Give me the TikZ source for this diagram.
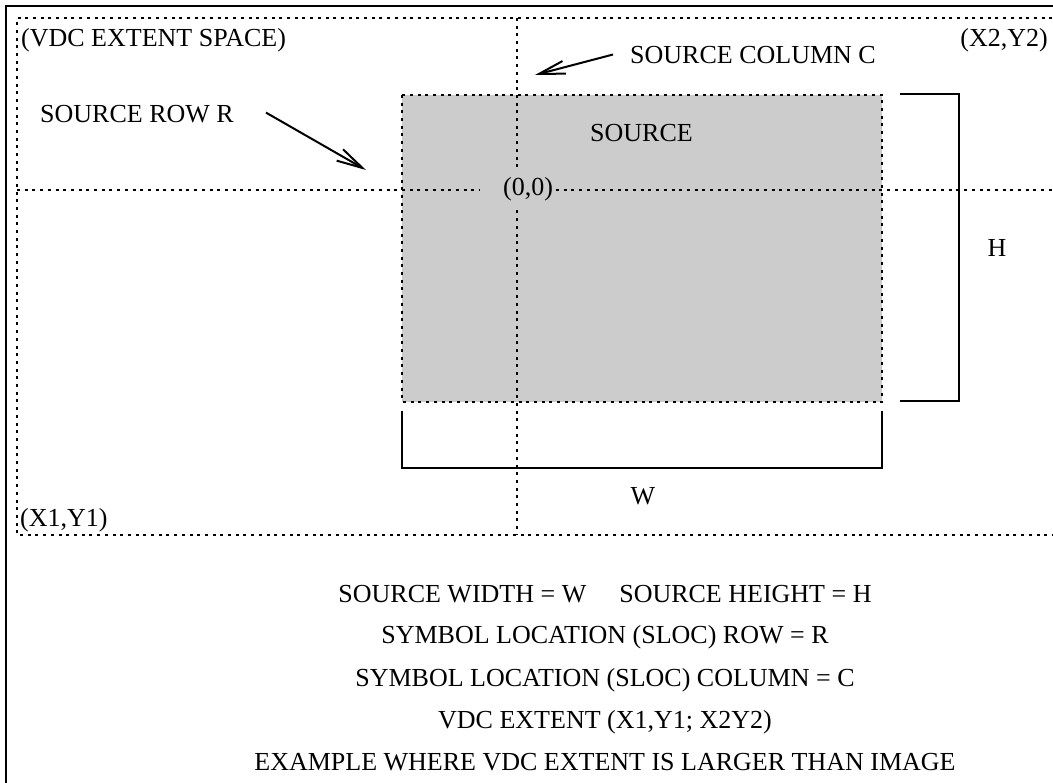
\documentclass[tikz,border=0pt]{standalone}
\usepackage{fontspec}
\setmainfont{Liberation Serif}
\usetikzlibrary{arrows.meta}
\newcommand{\lblfont}{\fontsize{26}{30}\selectfont}
\definecolor{srcgray}{RGB}{204,204,204}
\tikzset{
  frameline/.style={line width=2pt},
  dotline/.style={line width=2pt, dash pattern=on 3pt off 4.7pt},
  lbl/.style={inner sep=0pt, font=\lblfont},
  arr/.style={line width=2pt, -{Straight Barb[length=26pt,width=13pt,line width=2pt]}},
  bracketline/.style={line width=2pt},
}
\begin{document}
\begin{tikzpicture}[x=1pt,y=-1pt]
\useasboundingbox (0,0) rectangle (1053,783);
% outer frame (top and left)
\draw[frameline] (5,6) -- (1060,6);
\draw[frameline] (6,5) -- (6,790);
% source area
\fill[srcgray] (402,95) rectangle (882,402);
\draw[dotline] (402,95) rectangle (882,402);
% VDC extent dotted lines
\coordinate (ext1) at (17,535);
\coordinate (ext2) at (1053,18);
\draw[dotline] (1060,18) -- (17,18) -- (17,535) -- (1060,535);
\draw[dotline] (17,190) -- (1060,190);
\draw[dotline] (517,18) -- (517,535);
% origin label covering the crossing
\node[lbl, fill=srcgray, minimum width=75pt, minimum height=43pt, inner xsep=1.5pt,
      text width=72pt, align=right] (origin) at (517,189) {(0,0)};
% brackets
\draw[bracketline] (900,94) -- (959,94) -- (959,401) -- (900,401);
\draw[bracketline] (402,411) -- (402,468) -- (882,468) -- (882,411);
% labels
\node[lbl, anchor=base west] (space) at (21,47) {(VDC EXTENT SPACE)};
\node[lbl, anchor=base east] (x2y2) at (1048,47) {(X2,Y2)};
\node[lbl, anchor=base west] (collbl) at (630,64) {SOURCE COLUMN C};
\node[lbl, anchor=base west] (rowlbl) at (40,123) {SOURCE ROW R};
\node[lbl, anchor=base west] (src) at (590,142) {SOURCE};
\node[lbl, anchor=base] (hlbl) at (997,257) {H};
\node[lbl, anchor=base] (wlbl) at (643,505) {W};
\node[lbl, anchor=base west] (x1y1) at (20,527) {(X1,Y1)};
% arrows
\coordinate (rowtip) at (366,170);
\coordinate (coltip) at (535,75);
\draw[arr] ([xshift=32pt,yshift=2pt]rowlbl.east) -- (rowtip);
\draw[arr] ([xshift=-17pt,yshift=1pt]collbl.west) -- (coltip);
% bottom text
\node[lbl, anchor=base] (t1) at (605,602) {SOURCE WIDTH = W\hspace{33pt}SOURCE HEIGHT = H};
\node[lbl, anchor=base] (t2) at (605,643) {SYMBOL LOCATION (SLOC) ROW = R};
\node[lbl, anchor=base] (t3) at (605,686) {SYMBOL LOCATION (SLOC) COLUMN = C};
\node[lbl, anchor=base] (t4) at (605,728) {VDC EXTENT (X1,Y1; X2Y2)};
\node[lbl, anchor=base] (t5) at (605,770) {EXAMPLE WHERE VDC EXTENT IS LARGER THAN IMAGE};
\end{tikzpicture}
\end{document}
